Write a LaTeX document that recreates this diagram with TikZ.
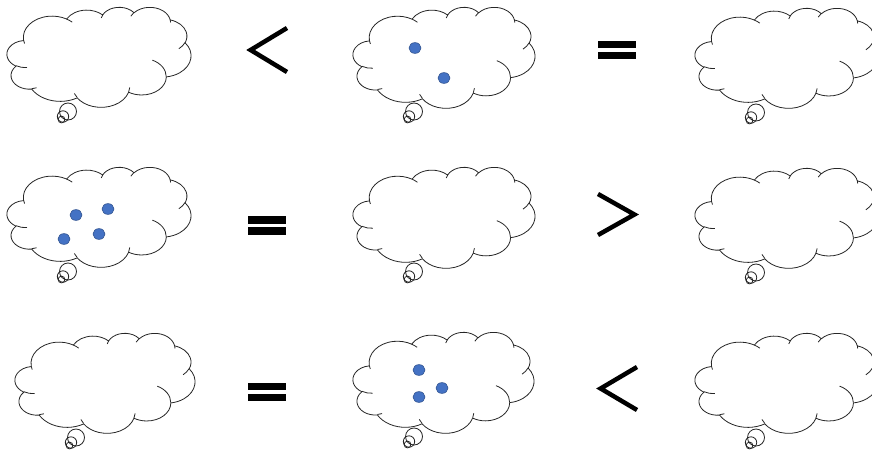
\documentclass[tikz,border=0pt]{standalone}
\definecolor{dotfill}{HTML}{4472C4}
\definecolor{dotline}{HTML}{2F528F}
\definecolor{cloudln}{HTML}{262626}
\tikzset{
  cloudstroke/.style={draw=cloudln, line width=0.8pt},
  dot/.style={fill=dotfill, draw=dotline, line width=0.6pt},
  relsym/.style={draw=black, line width=4.5pt, line join=miter, line cap=butt},
  eqbar/.style={fill=black}
}
\newcommand\carc[4]{%
  \pgfextra{%
    \pgfmathparse{atan2((#1)*sin(#3),(#2)*cos(#3))}\xdef\cloudA{\pgfmathresult}%
    \pgfmathparse{atan2((#1)*sin((#3)+(#4)),(#2)*cos((#3)+(#4)))}\xdef\cloudB{\pgfmathresult}%
    \pgfmathparse{mod((\cloudB)-(\cloudA)-(#4)+900,360)-180+(#4)}\xdef\cloudD{\pgfmathresult}%
  }%
  arc[x radius=#1, y radius=#2, start angle=\cloudA, delta angle=\cloudD]%
}
\newcommand\thoughtcloud[4]{%
  \begin{scope}[shift={(#1,#2)}, xscale={(#3)/43.2}, yscale={(#4)/43.2}]
    \path[cloudstroke, fill=white] (3.9,14.37)
      \carc{6.753}{9.19}{-190.48748}{123.78053}
      \carc{5.333}{7.267}{-144.10238}{89.94523}
      \carc{4.365}{5.945}{-145.80792}{99.72302}
      \carc{4.857}{6.595}{-130.98607}{117.24173}
      \carc{5.333}{7.273}{-78.70888}{109.02692}
      \carc{6.775}{9.22}{-46.26725}{130.269}
      \carc{5.785}{7.867}{0.62502}{114.03333}
      \carc{6.752}{9.215}{22.4516}{115.17255}
      \carc{7.72}{10.543}{66.24263}{75.71102}
      \carc{4.36}{5.918}{-274.94208}{146.73557}
      \carc{4.345}{5.945}{-246.8285}{152.51885}
      -- cycle;
    \path[cloudstroke]
      (4.693,26.177) \carc{4.345}{5.945}{86.742}{26.4295}
      (6.928,34.899) \carc{4.36}{5.918}{73.61047}{11.44747}
      (16.478,39.09) \carc{6.752}{9.215}{137.62415}{14.0811}
      (28.827,34.751) \carc{6.752}{9.215}{6.45327}{15.99835}
      (34.129,22.954) \carc{5.785}{7.867}{-70.29235}{70.91737}
      (41.798,15.354) \carc{5.333}{7.273}{30.31803}{27.7515}
      (38.324,5.426) \carc{4.857}{6.595}{-13.74433}{14.8589}
      (29.078,3.952) \carc{4.857}{6.595}{-149.18145}{18.19537}
      (22.141,4.72) \carc{4.365}{5.945}{-163.49427}{17.68635}
      (14.0,5.192) \carc{6.753}{9.19}{-66.70695}{12.31935}
      (4.127,15.789) \carc{6.753}{9.19}{157.65435}{11.85817};
  \end{scope}
  \begin{scope}[shift={(#1,#2)}]
    \path[cloudstroke] (61,104.5) circle[radius=8.5];
    \path[cloudstroke] (56,109.5) circle[radius=5.7];
    \path[cloudstroke] (54.5,112.5) circle[radius=3.4];
  \end{scope}
}
\begin{document}
\begin{tikzpicture}[x=1pt,y=-1pt]
\useasboundingbox (0,0) rectangle (872,450);
\fill[white] (0,0) rectangle (872,450);
% row 1
\thoughtcloud{7}{7}{184}{100}
\thoughtcloud{353}{7}{182}{101}
\thoughtcloud{695}{8}{183}{100}
% row 2
\thoughtcloud{7}{167}{184}{100}
\thoughtcloud{353}{167}{182}{101}
\thoughtcloud{695}{168}{183}{100}
% row 3
\thoughtcloud{15}{333}{180}{100}
\thoughtcloud{353}{332}{181}{101}
\thoughtcloud{695}{333}{183}{100}
% dots
\path[dot] (415,48) ellipse[x radius=6, y radius=5.4];
\path[dot] (444,78) ellipse[x radius=6, y radius=5.4];
\path[dot] (76,215) ellipse[x radius=6, y radius=5.4];
\path[dot] (108,209) ellipse[x radius=6, y radius=5.4];
\path[dot] (64,239) ellipse[x radius=6, y radius=5.4];
\path[dot] (99,234) ellipse[x radius=6, y radius=5.4];
\path[dot] (419,370) ellipse[x radius=6, y radius=5.4];
\path[dot] (442,388) ellipse[x radius=6, y radius=5.4];
\path[dot] (419,397) ellipse[x radius=6, y radius=5.4];
% relation symbols
\path[relsym] (287,28) -- (250.6,50) -- (287,72);
\path[relsym] (598,194) -- (634.4,214.5) -- (598,235);
\path[relsym] (637,367) -- (600.6,388.5) -- (637,410);
\path[eqbar] (598,41) rectangle (636,48);
\path[eqbar] (598,52) rectangle (636,59);
\path[eqbar] (248,216) rectangle (286,223.5);
\path[eqbar] (248,227) rectangle (286,234.5);
\path[eqbar] (248,382.5) rectangle (286,390);
\path[eqbar] (248,393.5) rectangle (286,401);
\end{tikzpicture}
\end{document}
